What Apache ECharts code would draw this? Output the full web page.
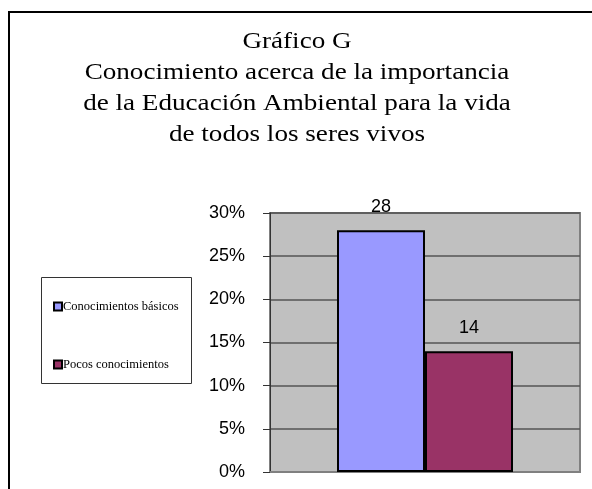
<!DOCTYPE html>
<html>
<head>
<meta charset="utf-8">
<script src="https://cdn.jsdelivr.net/npm/echarts@6/dist/echarts.min.js"></script>
<style>html,body{margin:0;padding:0;background:#fff;}#c{width:592px;height:489px;}</style>
</head>
<body>
<div id="c"></div>
<script>
const titleText = 'Gráfico G\nConocimiento acerca de la importancia\nde la Educación Ambiental para la vida\nde todos los seres vivos';
const categories = [''];
const seriesNames = ['Conocimientos básicos', 'Pocos conocimientos'];
const basicos = [28];
const pocos = [14];
const yTicks = [0, 5, 10, 15, 20, 25, 30];

const chart = echarts.init(document.getElementById('c'), null, {renderer: 'canvas'});
const serif = 'Liberation Serif';
const sans = 'Liberation Sans';
chart.setOption({
  animation: false,
  backgroundColor: '#ffffff',
  graphic: [
    {type: 'rect', shape: {x: 9, y: 12, width: 620, height: 520}, style: {fill: 'none', stroke: '#000', lineWidth: 2}, z: 100, silent: true},
    {type: 'rect', shape: {x: 41.5, y: 277.5, width: 150, height: 106}, style: {fill: '#fff', stroke: '#333', lineWidth: 1}, z: 0, silent: true},
    {type: 'text', x: 297, y: 26.5, scaleX: 1.13, silent: true, z: 10,
      style: {text: titleText, font: '24px ' + serif, fill: '#000', textAlign: 'center', textVerticalAlign: 'top', lineHeight: 31}}
  ],
  legend: {
    orient: 'vertical',
    left: 53,
    top: 300,
    padding: 0,
    itemWidth: 8,
    itemHeight: 8,
    itemGap: 45,
    icon: 'rect',
    itemStyle: {borderColor: '#000', borderWidth: 2},
    textStyle: {fontFamily: serif, fontSize: 12.5, color: '#000', padding: [0, 0, 0, -4]},
    data: seriesNames,
    z: 5
  },
  grid: {
    left: 270, right: 12, top: 213, bottom: 17,
    show: true, backgroundColor: '#c0c0c0', borderColor: '#808080', borderWidth: 2
  },
  xAxis: {
    type: 'category',
    data: categories,
    axisLine: {lineStyle: {color: '#808080', width: 2}},
    axisTick: {show: false},
    axisLabel: {show: false}
  },
  yAxis: {
    type: 'value',
    min: yTicks[0],
    max: yTicks[yTicks.length - 1],
    interval: 5,
    axisLine: {show: true, lineStyle: {color: '#333', width: 1}},
    axisTick: {show: true, length: 7, lineStyle: {color: '#333'}},
    axisLabel: {formatter: '{value}%', fontFamily: sans, fontSize: 18, color: '#000', margin: 25},
    splitLine: {show: true, lineStyle: {color: '#555', width: 1.5}}
  },
  series: [
    {
      name: seriesNames[0], type: 'bar', data: basicos, barWidth: 88, barGap: '0%',
      itemStyle: {color: '#9999ff', borderColor: '#000', borderWidth: 2},
      label: {show: true, position: 'top', distance: 14, fontFamily: sans, fontSize: 18, color: '#000'}
    },
    {
      name: seriesNames[1], type: 'bar', data: pocos, barWidth: 88,
      itemStyle: {color: '#993366', borderColor: '#000', borderWidth: 2},
      label: {show: true, position: 'top', distance: 14, fontFamily: sans, fontSize: 18, color: '#000'}
    }
  ]
});
</script>
</body>
</html>
